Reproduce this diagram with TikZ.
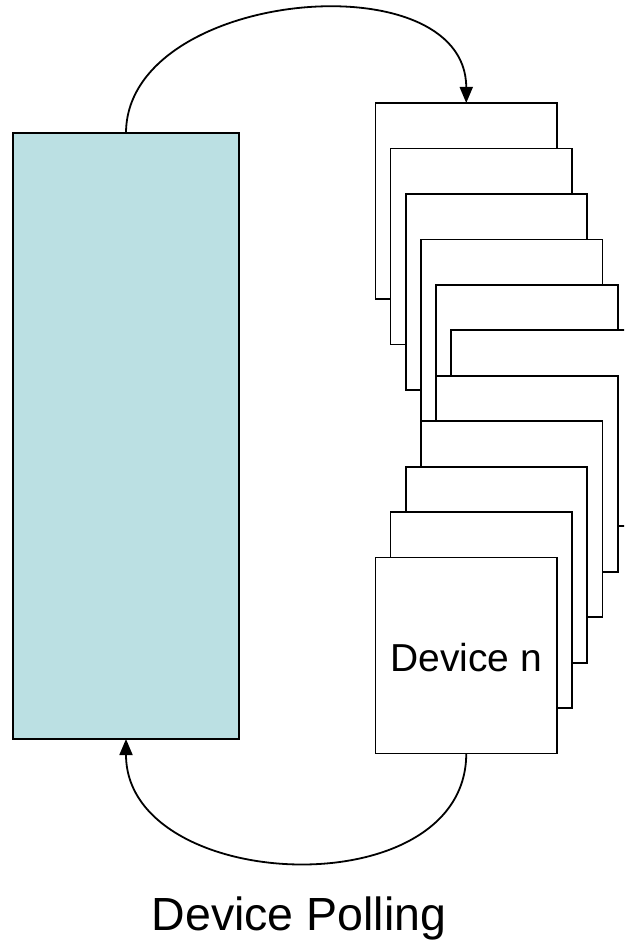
\documentclass[tikz,border=0pt]{standalone}
\usepackage{fontspec}
\setmainfont{Liberation Sans}
\usetikzlibrary{arrows.meta}
\definecolor{panelblue}{RGB}{187,224,227}
\begin{document}
\begin{tikzpicture}[x=1pt,y=-1pt,
  card/.style={draw=black, fill=white, line width=1.7pt, anchor=north west,
    minimum width=181.5pt, minimum height=196pt, inner sep=0pt, outer sep=0pt},
  panel/.style={draw=black, fill=panelblue, line width=1.7pt, anchor=north west,
    minimum width=226.6pt, minimum height=605.7pt, inner sep=0pt, outer sep=0pt},
  conn/.style={draw=black, line width=1.8pt, -{Triangle[length=16pt,width=13pt]}},
  label/.style={font=\fontsize{39}{44}\selectfont, anchor=base, inner sep=0pt}]
\useasboundingbox (0,0) rectangle (624,944);
\clip (0,0) rectangle (624,944);

% host panel
\node[panel] (host) at (12.7,133.3) {};

% stacked device cards, back to front
\node[card] (c1) at (375.5,103) {};
\node[card] (c2) at (390.6,148.5) {};
\node[card] (c3) at (405.8,194) {};
\node[card] (c4) at (420.9,239.5) {};
\node[card] (c5) at (436.2,284.8) {};
\node[card] (c6) at (451.3,330.2) {};
\node[card] (c7) at (436.2,375.8) {};
\node[card] (c8) at (420.9,421.3) {};
\node[card] (c9) at (405.8,466.7) {};
\node[card] (c10) at (390.6,512.1) {};
\node[card] (c11) at (375.5,557.5) {};
\node[label] (devn) at (466.3,671.7) {Device n};

% polling loop
\draw[conn] (host.north) .. controls +(0,-144) and +(0,-144) .. (c1.north);
\draw[conn] (c11.south) .. controls +(0,155) and +(0,155) .. (host.south);

\node[label, font=\fontsize{46.5}{52}\selectfont] (title) at (299,930) {Device Polling};
\end{tikzpicture}
\end{document}
